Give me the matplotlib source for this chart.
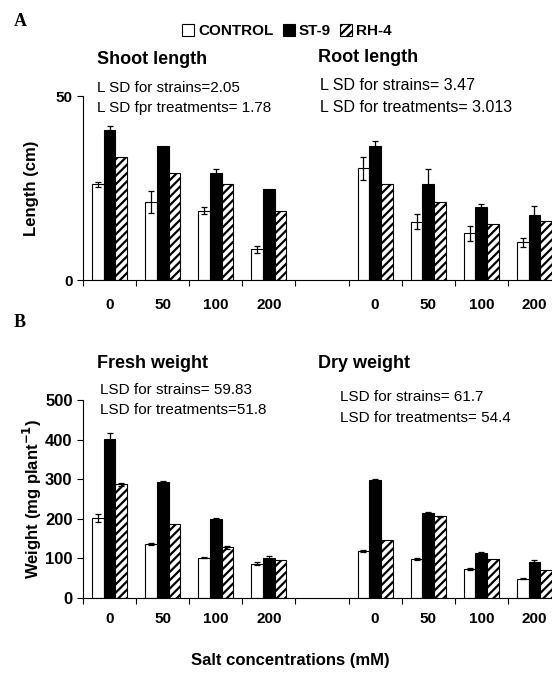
import matplotlib
matplotlib.use("Agg")
import numpy as np
import matplotlib.pyplot as plt
from matplotlib.patches import Patch

plt.rcParams['font.family'] = ['Liberation Sans Narrow', 'Liberation Sans', 'DejaVu Sans']
plt.rcParams['hatch.linewidth'] = 1.6

# data
salt = ['0', '50', '100', '200']
strains = ['CONTROL', 'ST-9', 'RH-4']

shoot = [[26.0, 21.2, 18.8, 8.3],     # CONTROL
         [40.7, 36.5, 29.1, 24.6],    # ST-9
         [33.5, 29.1, 26.0, 18.7]]    # RH-4
shoot_err = [[0.6, 3.0, 1.0, 1.0],
             [1.2, 0.0, 1.0, 0.0],
             [0.0, 0.0, 0.0, 0.0]]
root = [[30.3, 15.8, 12.7, 10.2],
        [36.4, 26.0, 19.9, 17.6],
        [26.0, 21.1, 15.2, 16.1]]
root_err = [[3.2, 2.0, 2.0, 1.2],
            [1.5, 4.2, 0.7, 2.4],
            [0.0, 0.0, 0.0, 0.0]]

fresh = [[203, 137, 102, 87],
         [401, 292, 199, 102],
         [287, 187, 128, 97]]
fresh_err = [[10, 2, 2, 3],
             [15, 3, 3, 3],
             [3, 0, 3, 0]]
dry = [[118, 99, 73, 49],
       [298, 214, 113, 92],
       [147, 206, 99, 71]]
dry_err = [[2, 2, 2, 2],
           [3, 3, 3, 3],
           [0, 2, 0, 0]]

W, H = 552, 684
fig = plt.figure(figsize=(W / 100, H / 100), dpi=100)

faces = ['white', 'black', 'white']
hatches = [None, None, '////']
bw = 0.22


def px_axes(left, top, right, bottom):
    return fig.add_axes([left / W, 1 - bottom / H, (right - left) / W, (bottom - top) / H])


def draw_panel(ax, left_vals, left_err, right_vals, right_err, ymax, yticks, pad):
    for k in range(3):
        for slots, vals, errs in [(np.arange(4), left_vals, left_err),
                                  (np.arange(5, 9), right_vals, right_err)]:
            x = slots + 0.5 + (k - 1) * bw
            ax.bar(x, vals[k], width=bw, color=faces[k], edgecolor='black',
                   hatch=hatches[k], linewidth=0.8, zorder=2)
            e = np.array(errs[k], dtype=float)
            m = e > 0
            if m.any():
                ax.errorbar(x[m], np.array(vals[k])[m], yerr=e[m], fmt='none',
                            ecolor='black', elinewidth=0.9, capsize=2.5, capthick=0.9, zorder=3)
    ax.set_xlim(0, 9)
    ax.set_ylim(0, ymax)
    ax.set_yticks(yticks)
    ax.set_xticks(np.arange(0, 10))
    ax.set_xticklabels([])
    centers = [i + 0.5 for i in range(4)] + [i + 0.5 for i in range(5, 9)]
    ax.set_xticks(centers, minor=True)
    ax.set_xticklabels(salt + salt, minor=True, fontsize=11, fontweight='bold')
    ax.tick_params(axis='x', which='minor', length=0, pad=pad)
    ax.tick_params(axis='x', which='major', length=4, width=0.8, direction='out')
    ax.tick_params(axis='y', length=4, width=0.8, direction='out', labelsize=12)
    for lab in ax.get_yticklabels():
        lab.set_fontweight('bold')
    for s in ['top', 'right']:
        ax.spines[s].set_visible(False)
    for s in ['left', 'bottom']:
        ax.spines[s].set_linewidth(0.8)


axA = px_axes(83, 96, 561, 280)
draw_panel(axA, shoot, shoot_err, root, root_err, 50, [0, 50], 13)
axA.set_ylabel('Length (cm)', fontsize=12, fontweight='bold', labelpad=12)
for lab in axA.get_yticklabels():
    lab.set_fontsize(11)

axB = px_axes(83, 400, 561, 598)
draw_panel(axB, fresh, fresh_err, dry, dry_err, 500, [0, 100, 200, 300, 400, 500], 10)
axB.set_ylabel('Weight (mg plant$^{\\mathbf{-1}}$)', fontsize=12, fontweight='bold', labelpad=1)


def ftext(x, y, s, **kw):
    fig.text(x / W, 1 - y / H, s, va='center', **kw)


ftext(14, 22, 'A', fontsize=13, fontweight='bold', family=['Liberation Serif', 'DejaVu Serif'])
ftext(14, 322, 'B', fontsize=13, fontweight='bold', family=['Liberation Serif', 'DejaVu Serif'])

ftext(97, 60, 'Shoot length', fontsize=13, fontweight='bold')
ftext(318, 58, 'Root length', fontsize=13, fontweight='bold')
ftext(97, 88, 'L SD for strains=2.05', fontsize=11)
ftext(97, 108, 'L SD fpr treatments= 1.78', fontsize=11)
ftext(320, 86, 'L SD for strains= 3.47', fontsize=11.5)
ftext(320, 107, 'L SD for treatments= 3.013', fontsize=11.5)

ftext(97, 364, 'Fresh weight', fontsize=13, fontweight='bold')
ftext(318, 364, 'Dry weight', fontsize=13, fontweight='bold')
ftext(100, 390, 'LSD for strains= 59.83', fontsize=11)
ftext(100, 410, 'LSD for treatments=51.8', fontsize=11)
ftext(340, 397, 'LSD for strains= 61.7', fontsize=11)
ftext(340, 418, 'LSD for treatments= 54.4', fontsize=11)

fig.text(290 / W, 1 - 660 / H, 'Salt concentrations (mM)', ha='center', va='center',
         fontsize=12, fontweight='bold')

handles = [Patch(facecolor=faces[k], edgecolor='black', hatch=hatches[k], linewidth=0.8)
           for k in range(3)]
fig.legend(handles, strains, loc='center', bbox_to_anchor=(287 / W, 1 - 31 / H), ncol=3,
           frameon=False, handlelength=0.8, handleheight=0.8, handletextpad=0.25,
           columnspacing=0.6, prop={'weight': 'bold', 'size': 11})

fig.savefig('out.png', dpi=100)
